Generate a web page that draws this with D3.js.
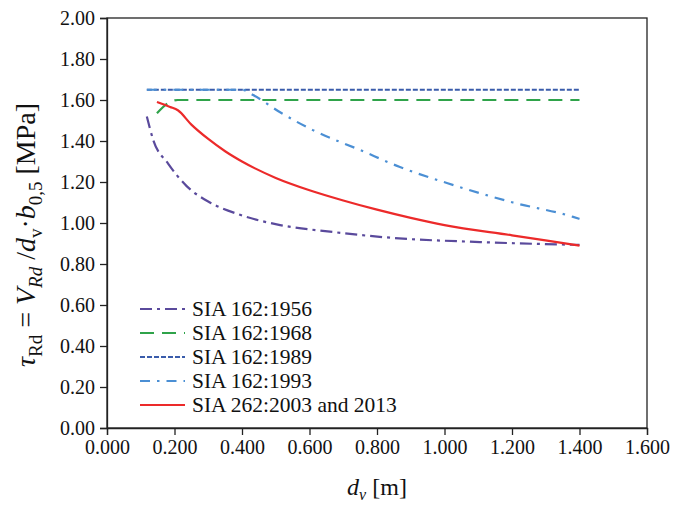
<!DOCTYPE html>
<html>
<head>
<meta charset="utf-8">
<script src="https://cdn.jsdelivr.net/npm/d3@7"></script>
<style>
  body { margin: 0; background: #fff; }
  text { font-family: "Liberation Serif", "Times New Roman", serif; fill: #111; }
  .axis path, .axis line { stroke: #222; stroke-width: 1.3px; }
  .axis text { font-size: 20px; font-family: "Liberation Serif", serif; fill: #111; }
</style>
</head>
<body>
<svg width="674" height="505"></svg>
<script>
// valeurs
const xTicks = [0, 0.2, 0.4, 0.6, 0.8, 1.0, 1.2, 1.4, 1.6];
const yTicks = [0, 0.2, 0.4, 0.6, 0.8, 1.0, 1.2, 1.4, 1.6, 1.8, 2.0];

const dv1956 = [0.118, 0.137, 0.181, 0.236, 0.305, 0.394, 0.513, 0.67, 0.848, 1.105, 1.40];
const tau1956 = [1.52, 1.405, 1.29, 1.18, 1.10, 1.04, 0.99, 0.956, 0.927, 0.907, 0.893];

const dv1968 = [0.148, 0.181, 0.21, 0.40, 0.80, 1.40];
const tau1968 = [1.535, 1.585, 1.60, 1.60, 1.60, 1.60];

const dv1989 = [0.118, 0.40, 0.80, 1.40];
const tau1989 = [1.65, 1.65, 1.65, 1.65];

const dv1993 = [0.118, 0.40, 0.433, 0.513, 0.61, 0.75, 0.868, 1.007, 1.203, 1.381, 1.40];
const tau1993 = [1.65, 1.65, 1.624, 1.54, 1.453, 1.356, 1.273, 1.195, 1.10, 1.03, 1.02];

const dv2003 = [0.148, 0.187, 0.21, 0.25, 0.30, 0.35, 0.40, 0.50, 0.60, 0.70, 0.80, 0.90, 1.00, 1.20, 1.40];
const tau2003 = [1.59, 1.566, 1.55, 1.48, 1.41, 1.35, 1.30, 1.22, 1.16, 1.11, 1.065, 1.025, 0.99, 0.94, 0.89];

const seriesNames = ["SIA 162:1956", "SIA 162:1968", "SIA 162:1989", "SIA 162:1993", "SIA 262:2003 and 2013"];

const series = [
  {name: seriesNames[0], x: dv1956, y: tau1956, color: "#5a4a9c", dash: "12,5,3,5"},
  {name: seriesNames[1], x: dv1968, y: tau1968, color: "#2fa34a", dash: "14,8"},
  {name: seriesNames[2], x: dv1989, y: tau1989, color: "#3a5cab", dash: "5,2"},
  {name: seriesNames[3], x: dv1993, y: tau1993, color: "#4b8fd4", dash: "10,7,2.5,7"},
  {name: seriesNames[4], x: dv2003, y: tau2003, color: "#ec2a2a", dash: null}
];

const svg = d3.select("svg");
const gauche = 107, droite = 647, haut = 18, bas = 428;

const x = d3.scaleLinear().domain([0, 1.6]).range([gauche, droite]);
const y = d3.scaleLinear().domain([0, 2.0]).range([bas, haut]);

// cadre
svg.append("rect")
  .attr("x", gauche).attr("y", haut)
  .attr("width", droite - gauche).attr("height", bas - haut)
  .attr("fill", "none").attr("stroke", "#222").attr("stroke-width", 1.3);

svg.append("g").attr("class", "axis")
  .attr("transform", `translate(0,${bas})`)
  .call(d3.axisBottom(x).tickValues(xTicks).tickFormat(d3.format(".3f")).tickSize(7).tickPadding(5));

svg.append("g").attr("class", "axis")
  .attr("transform", `translate(${gauche},0)`)
  .call(d3.axisLeft(y).tickValues(yTicks).tickFormat(d3.format(".2f")).tickSize(7).tickPadding(5));

// courbes
const ligne = d3.line().x(d => x(d[0])).y(d => y(d[1])).curve(d3.curveMonotoneX);

series.forEach(s => {
  svg.append("path")
    .datum(d3.zip(s.x, s.y))
    .attr("d", ligne)
    .attr("fill", "none")
    .attr("stroke", s.color)
    .attr("stroke-width", 2.2)
    .attr("stroke-dasharray", s.dash);
});

// legende
const leg = svg.append("g").attr("transform", "translate(140,309)");
series.forEach((s, i) => {
  const g = leg.append("g").attr("transform", `translate(0,${i * 24})`);
  g.append("line").attr("x1", 0).attr("x2", 45).attr("y1", 0).attr("y2", 0)
    .attr("stroke", s.color).attr("stroke-width", 2)
    .attr("stroke-dasharray", s.dash);
  g.append("text").attr("x", 52).attr("y", 7).style("font-size", "21.5px").text(s.name);
});

// titre axe x
const tx = svg.append("text")
  .attr("x", (gauche + droite) / 2).attr("y", 495)
  .attr("text-anchor", "middle").style("font-size", "24px");
tx.append("tspan").style("font-style", "italic").text("d");
tx.append("tspan").attr("dy", 5).style("font-size", "16px").style("font-style", "italic").text("v");
tx.append("tspan").attr("dy", -5).text(" [m]");

// titre axe y
const ty = svg.append("text")
  .attr("transform", `translate(35,${(haut + bas) / 2 + 12}) rotate(-90)`)
  .attr("text-anchor", "middle").style("font-size", "28px");
ty.append("tspan").style("font-style", "italic").text("τ");
ty.append("tspan").attr("dy", 7).style("font-size", "19px").text("Rd");
ty.append("tspan").attr("dy", -7).text(" = ");
ty.append("tspan").style("font-style", "italic").text("V");
ty.append("tspan").attr("dy", 7).style("font-size", "19px").style("font-style", "italic").text("Rd");
ty.append("tspan").attr("dy", -7).text(" /");
ty.append("tspan").style("font-style", "italic").text("d");
ty.append("tspan").attr("dy", 7).style("font-size", "19px").text("v");
ty.append("tspan").attr("dy", -7).text("·");
ty.append("tspan").style("font-style", "italic").text("b");
ty.append("tspan").attr("dy", 7).style("font-size", "19px").text("0,5");
ty.append("tspan").attr("dy", -7).text("  [MPa]");
</script>
</body>
</html>
